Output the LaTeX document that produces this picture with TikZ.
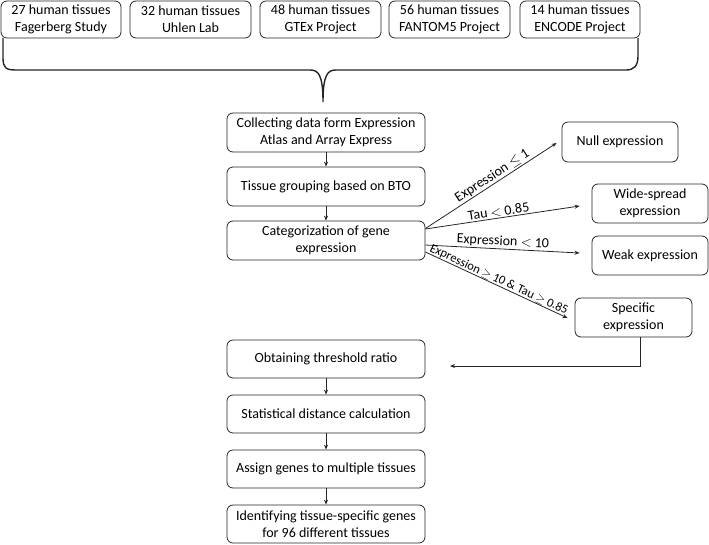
\documentclass[tikz,border=0pt]{standalone}
\usepackage{fontspec}
\setmainfont{Carlito}
\usetikzlibrary{arrows.meta}
\begin{document}
\begin{tikzpicture}[x=1pt,y=-1pt,
  box/.style={draw=black!85, line width=0.8pt, rounded corners=6pt, align=center, inner sep=0pt,
    font=\fontsize{14}{17}\selectfont},
  arr/.style={draw=black!85, line width=0.8pt, -{Stealth[length=5pt,width=4pt]}},
  lbl/.style={font=\fontsize{14}{16}\selectfont, sloped, above, inner sep=1pt}]
\useasboundingbox (0,0) rectangle (709,544);
% top sources
\node[box, minimum width=120, minimum height=37] (t1) at (61,19.5) {27 human tissues\\Fagerberg Study};
\node[box, minimum width=121, minimum height=37] (t2) at (190.5,19.5) {32 human tissues\\Uhlen Lab};
\node[box, minimum width=121, minimum height=37] (t3) at (320.5,19.5) {48 human tissues\\GTEx Project};
\node[box, minimum width=121, minimum height=37] (t4) at (449.5,19.5) {56 human tissues\\FANTOM5 Project};
\node[box, minimum width=120, minimum height=37] (t5) at (580,19.5) {14 human tissues\\ENCODE Project};
% brace
\draw[black!85, line width=1.4pt]
  (3,38) -- (3,58) .. controls (3,68) and (6,70) .. (16,70) -- (310,70)
  .. controls (318,70) and (323,74) .. (323,102)
  .. controls (323,74) and (328,70) .. (336,70) -- (626,70)
  .. controls (634,70) and (638,66) .. (638,56) -- (638,38);
% left column
\node[box, minimum width=198, minimum height=39] (c1) at (326,132.5) {Collecting data form Expression\\Atlas and Array Express};
\node[box, minimum width=198, minimum height=39] (c2) at (326,186.5) {Tissue grouping based on BTO};
\node[box, minimum width=198, minimum height=39] (c3) at (326,240.5) {Categorization of gene\\expression};
\node[box, minimum width=198, minimum height=38] (c4) at (326,359) {Obtaining threshold ratio};
\node[box, minimum width=198, minimum height=38] (c5) at (326,414) {Statistical distance calculation};
\node[box, minimum width=198, minimum height=38] (c6) at (326,469) {Assign genes to multiple tissues};
\node[box, minimum width=198, minimum height=38] (c7) at (326,524) {Identifying tissue-specific genes\\for 96 different tissues};
% right column
\node[box, minimum width=116, minimum height=40] (nl) at (620,142) {Null expression};
\node[box, minimum width=116, minimum height=39] (ws) at (650,203.5) {Wide-spread\\expression};
\node[box, minimum width=116, minimum height=39] (wk) at (650,255.5) {Weak expression};
\node[box, minimum width=117, minimum height=39] (sp) at (633.5,317.5) {Specific\\expression};
% vertical arrows
\draw[arr] (c1) -- (c2);
\draw[arr] (c2) -- (c3);
\draw[arr] (c4) -- (c5);
\draw[arr] (c5) -- (c6);
\draw[arr] (c6) -- (c7);
% branching arrows
\draw[arr] ([yshift=12pt]c3.east) -- node[lbl, pos=0.54] {Expression $\leq$ 1} ([xshift=-5pt,yshift=-1pt]nl.west);
\draw[arr] ([yshift=11.5pt]c3.east) -- node[lbl, pos=0.48] {Tau $<$ 0.85} ([xshift=-12pt,yshift=-2.5pt]ws.west);
\draw[arr] ([yshift=-4.5pt]c3.east) -- node[lbl] {Expression $<$ 10} ([xshift=-12pt,yshift=2.5pt]wk.west);
\draw[arr] ([yshift=-11.5pt]c3.east) -- node[lbl, pos=0.5, inner sep=0pt, font=\fontsize{12.5}{14}\selectfont] {Expression $\geq$ 10 \& Tau $\geq$ 0.85} ([xshift=-7pt,yshift=-0.5pt]sp.west);
% feedback
\coordinate (spb) at ([xshift=7pt]sp.south);
\coordinate (fe) at (450,366);
\draw[arr] (spb) |- (fe);
\end{tikzpicture}
\end{document}
